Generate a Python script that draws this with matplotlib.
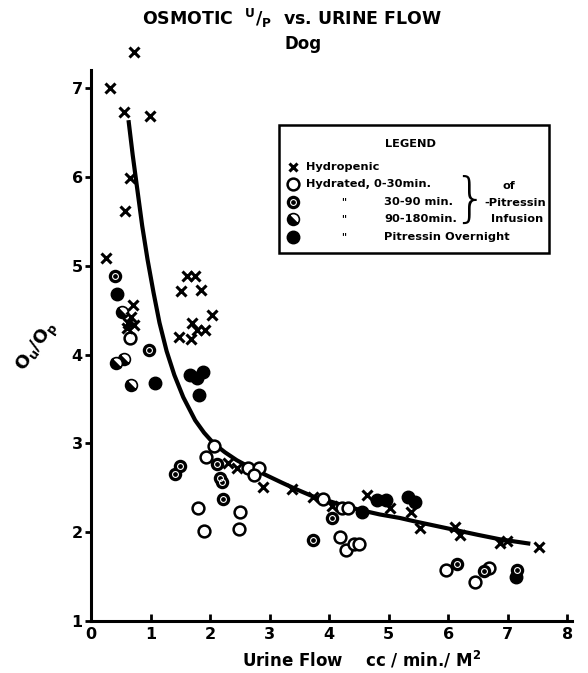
import matplotlib
matplotlib.use("Agg")
import matplotlib.pyplot as plt
from matplotlib.markers import MarkerStyle
from matplotlib.transforms import Affine2D

# --- data ---
hydro_x = [0.72, 0.32, 0.55, 0.99, 0.66, 0.57, 0.25, 0.70, 0.68, 0.62, 0.72, 0.60,
           1.61, 1.75, 1.52, 1.85, 2.04, 1.69, 1.78, 1.92, 1.47, 1.68,
           2.30, 2.45, 2.89, 3.37, 3.73, 4.05, 4.63, 5.03, 5.37, 5.52, 6.12, 6.20,
           6.87, 6.99, 7.52]
hydro_y = [7.41, 7.00, 6.73, 6.69, 5.99, 5.62, 5.09, 4.56, 4.42, 4.36, 4.33, 4.30,
           4.88, 4.89, 4.72, 4.73, 4.45, 4.36, 4.28, 4.28, 4.20, 4.18,
           2.78, 2.72, 2.51, 2.49, 2.40, 2.30, 2.42, 2.27, 2.23, 2.05, 2.06, 1.97,
           1.88, 1.90, 1.83]

h030_x = [0.66, 1.79, 2.50, 1.90, 2.49, 2.06, 1.94, 2.64, 2.83, 2.74, 3.89, 4.21,
          4.32, 4.18, 4.28, 4.41, 4.50, 5.97, 6.45, 6.69]
h030_y = [4.19, 2.27, 2.23, 2.01, 2.04, 2.97, 2.85, 2.72, 2.72, 2.64, 2.37, 2.27,
          2.27, 1.95, 1.80, 1.87, 1.87, 1.57, 1.44, 1.60]

h3090_x = [0.40, 0.98, 1.41, 1.50, 2.12, 2.17, 2.20, 2.22, 3.73, 4.05, 6.15, 6.61, 7.16]
h3090_y = [4.89, 4.05, 2.66, 2.74, 2.77, 2.61, 2.56, 2.37, 1.91, 2.16, 1.64, 1.56, 1.57]

h90180_x = [0.52, 0.42, 0.56, 0.67]
h90180_y = [4.48, 3.91, 3.95, 3.66]

night_x = [0.43, 1.08, 1.66, 1.78, 1.88, 1.82, 4.55, 4.80, 4.96, 5.33, 5.45, 7.14]
night_y = [4.68, 3.68, 3.77, 3.74, 3.80, 3.55, 2.23, 2.36, 2.36, 2.40, 2.34, 1.50]

# hand-drawn fitted curve, traced along its length
curve_x = [0.63, 0.70, 0.78, 0.86, 0.95, 1.05, 1.15, 1.27, 1.40, 1.55, 1.75, 1.90,
           2.06, 2.25, 2.45, 2.70, 2.95, 3.20, 3.46, 3.74, 4.00, 4.30, 4.52, 4.85,
           5.19, 5.45, 5.80, 6.15, 6.50, 6.87, 7.38]
curve_y = [6.64, 6.25, 5.85, 5.45, 5.07, 4.70, 4.36, 4.04, 3.77, 3.52, 3.26, 3.12,
           3.00, 2.90, 2.81, 2.72, 2.64, 2.56, 2.48, 2.40, 2.35, 2.29, 2.25, 2.20,
           2.16, 2.12, 2.07, 2.02, 1.97, 1.92, 1.87]

x_ticks = [0, 1, 2, 3, 4, 5, 6, 7, 8]
y_ticks = [1, 2, 3, 4, 5, 6, 7]

# --- marker styles ---
half_marker = MarkerStyle('o', fillstyle='bottom', transform=Affine2D().rotate_deg(-45))
STYLES = {
    "hydro": dict(marker='x', ms=7, mew=2.2, color='black', ls='none'),
    "h030": dict(marker='o', ms=8.5, mew=1.8, mfc='white', mec='black', ls='none'),
    "h3090": dict(marker='o', ms=8.5, mew=1.2, mfc='black', mec='black', ls='none'),
    "h3090_inner": dict(marker='o', ms=4.2, mew=0.8, mfc='none', mec='white', ls='none'),
    "h90180": dict(marker=half_marker, ms=8.5, mew=1.2, mfc='black', mfcalt='white',
                   mec='black', ls='none'),
    "night": dict(marker='o', ms=9, mew=1, mfc='black', mec='black', ls='none'),
}

W, H = 588, 673
fig = plt.figure(figsize=(W / 100, H / 100), dpi=100)
ax = fig.add_axes([91 / W, 1 - 621 / H, 481 / W, (621 - 43.8) / H])

ax.plot(curve_x, curve_y, color='black', lw=3, zorder=3, solid_capstyle='butt',
        solid_joinstyle='round')
ax.plot(h030_x, h030_y, zorder=4, **STYLES["h030"])
ax.plot(h3090_x, h3090_y, zorder=4, **STYLES["h3090"])
ax.plot(h3090_x, h3090_y, zorder=5, **STYLES["h3090_inner"])
ax.plot(h90180_x, h90180_y, zorder=4, **STYLES["h90180"])
ax.plot(night_x, night_y, zorder=4, **STYLES["night"])
ax.plot(hydro_x, hydro_y, zorder=6, clip_on=False, **STYLES["hydro"])

ax.set_xlim(0, 8.08)
ax.set_ylim(1, 7.5)
for s in ['top', 'right']:
    ax.spines[s].set_visible(False)
ax.spines['left'].set_bounds(1, 7.2)
ax.spines['left'].set_linewidth(2.2)
ax.spines['bottom'].set_linewidth(2.2)
ax.set_xticks(x_ticks)
ax.set_yticks(y_ticks)
ax.tick_params(axis='x', direction='in', length=5, width=2, labelsize=11.5, pad=4)
ax.tick_params(axis='y', direction='out', length=4, width=2, labelsize=11.5, pad=2)
for lab in ax.get_xticklabels() + ax.get_yticklabels():
    lab.set_fontweight('bold')

# --- overlay in pixel coordinates for the text and the legend box ---
ov = fig.add_axes([0, 0, 1, 1], facecolor='none')
ov.set_xlim(0, W)
ov.set_ylim(H, 0)
ov.axis('off')

ov.text(292, 18, r'OSMOTIC  $\mathbf{^{U}/_{P}}$  vs. URINE FLOW', ha='center', va='center',
        fontsize=12.5, fontweight='bold')
ov.text(303, 44, 'Dog', ha='center', va='center', fontsize=12, fontweight='bold')
ov.text(362, 660, r'Urine Flow    cc / min./ M$\mathbf{^2}$', ha='center', va='center',
        fontsize=12, fontweight='bold')
ov.text(38, 347, r'$\mathbf{O_u/O_p}$', ha='center', va='center', fontsize=13,
        rotation=55)

# legend box
LFS = 8.2
ov.add_patch(plt.Rectangle((279, 125), 270, 128, fill=False, lw=1.8, ec='black'))
ov.text(410, 144, 'LEGEND', ha='center', va='center', fontsize=LFS, fontweight='bold')
rows_y = [167, 184, 202, 219, 237]
keys = ["hydro", "h030", "h3090", "h90180", "night"]
for yy, k in zip(rows_y, keys):
    st = dict(STYLES[k])
    if k == "hydro":
        st["ms"] = 6
    ov.plot([293], [yy], **st)
    if k == "h3090":
        ov.plot([293], [yy], **STYLES["h3090_inner"])
ov.text(306, rows_y[0], 'Hydropenic', va='center', fontsize=LFS, fontweight='bold')
ov.text(306, rows_y[1], 'Hydrated, 0-30min.', va='center', fontsize=LFS, fontweight='bold')
for yy in rows_y[2:]:
    ov.text(344, yy, '"', va='center', ha='center', fontsize=7, fontweight='bold')
ov.text(384, rows_y[2], '30-90 min.', va='center', fontsize=LFS, fontweight='bold')
ov.text(384, rows_y[3], '90-180min.', va='center', fontsize=LFS, fontweight='bold')
ov.text(384, rows_y[4], 'Pitressin Overnight', va='center', fontsize=LFS, fontweight='bold')
ov.text(470, 201, '}', va='center', ha='center', fontsize=38, fontweight='light')
ov.text(509, 186, 'of', va='center', ha='center', fontsize=LFS, fontweight='bold')
ov.text(515, 203, '-Pitressin', va='center', ha='center', fontsize=LFS, fontweight='bold')
ov.text(517, 219, 'Infusion', va='center', ha='center', fontsize=LFS, fontweight='bold')

fig.savefig('out.png', dpi=100)
